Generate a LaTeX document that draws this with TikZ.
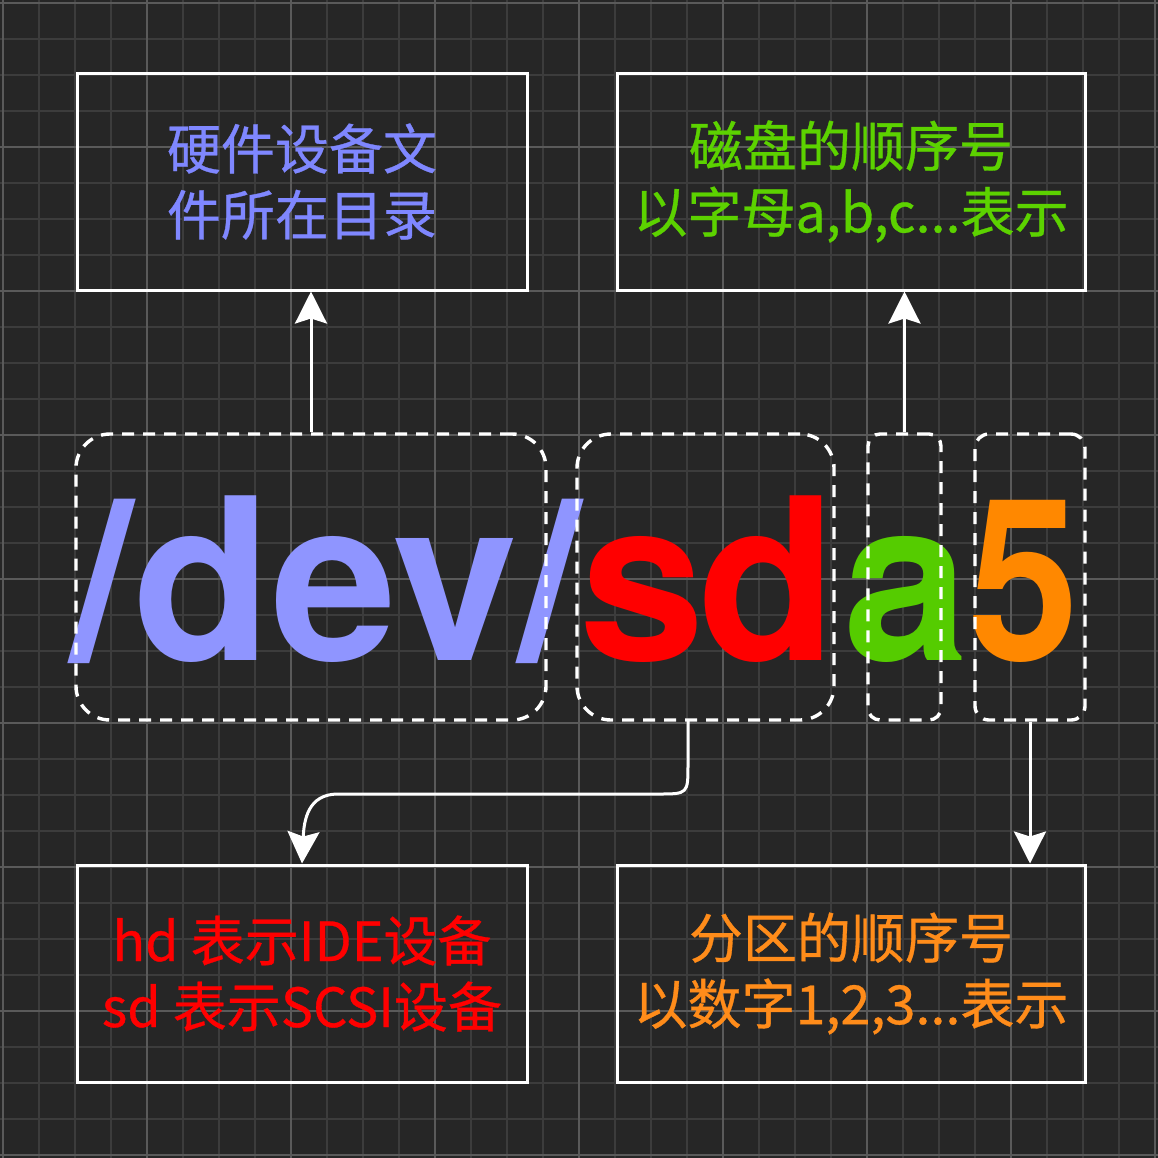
\documentclass[tikz,border=0pt]{standalone}
\usepackage{fontspec}
\newfontfamily\cjk{Noto Sans CJK SC}[FakeBold=0.6]
\newfontfamily\heros{TeX Gyre Heros}
\usetikzlibrary{arrows.meta}
\definecolor{bgc}{HTML}{262626}
\definecolor{gridminor}{HTML}{3C3C3C}
\definecolor{gridmajor}{HTML}{5A5A5A}
\definecolor{devblue}{HTML}{8F95FF}
\definecolor{txtblue}{HTML}{7F87FF}
\definecolor{sdred}{HTML}{FF0000}
\definecolor{agreen}{HTML}{55CC00}
\definecolor{txtgreen}{HTML}{5CD200}
\definecolor{fiveorange}{HTML}{FF8800}
\definecolor{txtorange}{HTML}{FF8C1A}
\tikzset{
  infobox/.style={draw=white, line width=1.5pt, inner sep=0pt, align=center,
    minimum height=108.5pt, font=\cjk\fontsize{27}{33}\selectfont},
  dashbox/.style={draw=white, line width=1.7pt, dash pattern=on 6pt off 4.5pt,
    inner sep=0pt, minimum height=143pt},
  bigtext/.style={inner sep=0pt, anchor=base west, font=\heros\bfseries\fontsize{113}{113}\selectfont},
  arr/.style={draw=white, line width=1.5pt, -{Stealth[length=16pt,width=16pt,inset=2.5pt]}}
}
\begin{document}
\begin{tikzpicture}[x=0.5pt,y=-0.5pt]
\useasboundingbox (0,0) rectangle (1158,1158);
\fill[bgc] (0,0) rectangle (1158,1158);
% grid
\foreach \k in {0,...,32}{
  \draw[gridminor, line width=1pt] (3+36*\k,0) -- (3+36*\k,1158);
  \draw[gridminor, line width=1pt] (0,3+36*\k) -- (1158,3+36*\k);
}
\foreach \k in {0,...,8}{
  \draw[gridmajor, line width=1pt] (3+144*\k,0) -- (3+144*\k,1158);
  \draw[gridmajor, line width=1pt] (0,3+144*\k) -- (1158,3+144*\k);
}
% info boxes
\node[infobox, minimum width=225pt, text=txtblue] (tl) at (302,181.5) {硬件设备文\\件所在目录};
\node[infobox, minimum width=234pt, text=txtgreen] (tr) at (851,181.5) {磁盘的顺序号\\以字母a,b,c...表示};
\node[infobox, minimum width=225pt, text=sdred] (bl) at (302,973.5) {hd 表示IDE设备\\sd 表示SCSI设备};
\node[infobox, minimum width=234pt, text=txtorange] (br) at (851,973.5) {分区的顺序号\\以数字1,2,3...表示};
% big text
\node[bigtext, text=devblue] (dev) at (70,660) {/dev/};
\node[bigtext, text=sdred] (sd) at (579,660) {s\kern-3.5pt d};
\node[bigtext, text=agreen] (a) at (843,660) {a};
\node[bigtext, text=fiveorange, xscale=0.88, transform shape] (five) at (968,660) {5};
% dashed boxes
\node[dashbox, minimum width=235pt, rounded corners=17pt] (devbox) at (311,577) {};
\node[dashbox, minimum width=128.5pt, rounded corners=17pt] (sdbox) at (705.5,577) {};
\node[dashbox, minimum width=36.5pt, rounded corners=6pt] (abox) at (904.5,577) {};
\node[dashbox, minimum width=55pt, rounded corners=7pt] (fivebox) at (1030,577) {};
% connectors
\draw[arr] (devbox.north) -- (devbox.north |- tl.south);
\draw[arr] (abox.north) -- (abox.north |- tr.south);
\draw[arr] (fivebox.south) -- (fivebox.south |- br.north);
\coordinate (sdout) at (688,720);
\coordinate (turnA) at (688,764);
\coordinate (turnB) at (658,794);
\coordinate (turnC) at (338,794);
\draw[arr] (sdout) -- (turnA) .. controls (688,794) .. (turnB) -- (turnC)
  .. controls (308,794) and (304,820) .. (bl.north);
\end{tikzpicture}
\end{document}
